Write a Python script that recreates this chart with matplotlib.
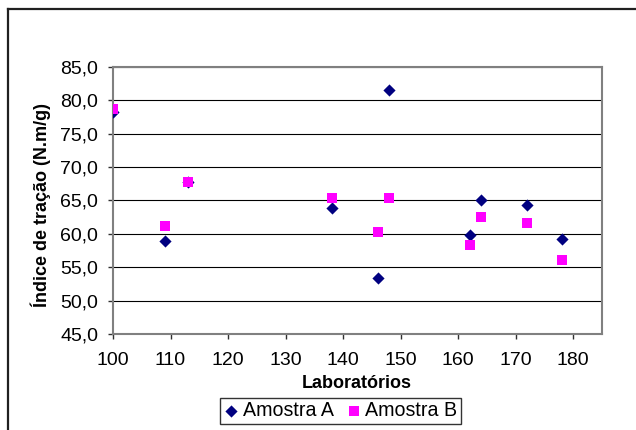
import matplotlib
matplotlib.use("Agg")
import matplotlib.pyplot as plt
from matplotlib.lines import Line2D
from matplotlib.ticker import FuncFormatter, MultipleLocator

plt.rcParams['font.family'] = ['Liberation Sans', 'DejaVu Sans']

labs = [100, 109, 113, 138, 146, 148, 162, 164, 172, 178]
amostra_a = [78.2, 59.0, 67.7, 63.9, 53.4, 81.5, 59.9, 65.0, 64.3, 59.2]
amostra_b = [78.7, 61.2, 67.8, 65.4, 60.3, 65.3, 58.3, 62.6, 61.7, 56.1]

W, H = 636, 430
fig = plt.figure(figsize=(W / 100, H / 100), dpi=100)

# outer chart-area border (top and left visible)
fig.add_artist(Line2D([8 / W, 8 / W], [0, 1 - 9 / H], transform=fig.transFigure,
                      color='#202020', lw=1.6))
fig.add_artist(Line2D([8 / W, 1], [1 - 9 / H, 1 - 9 / H], transform=fig.transFigure,
                      color='#202020', lw=1.6))

left, right, top, bottom = 113, 602, 67, 334
ax = fig.add_axes([left / W, 1 - bottom / H, (right - left) / W, (bottom - top) / H])

ax.scatter(labs, amostra_a, marker='D', s=6.2 ** 2, color='#000080', zorder=3,
           label='Amostra A', linewidths=0)
ax.scatter(labs, amostra_b, marker='s', s=7.4 ** 2, color='#FF00FF', zorder=3,
           label='Amostra B', linewidths=0)

ax.set_xlim(100, 185)
ax.set_ylim(45, 85)
ax.set_xticks(range(100, 181, 10))
ax.yaxis.set_major_locator(MultipleLocator(5))
ax.yaxis.set_major_formatter(FuncFormatter(lambda v, p: f"{v:.1f}".replace('.', ',')))

ax.grid(axis='y', color='black', lw=0.8)
ax.set_axisbelow(True)
for s in ax.spines.values():
    s.set_color('#808080')
    s.set_linewidth(1.5)

ax.tick_params(direction='out', length=3.6, width=1, color='#303030', labelsize=14)
ax.tick_params(axis='x', pad=9.5)
ax.tick_params(axis='y', pad=7)

fig.text(357 / W, 1 - 383 / H, 'Laboratórios', fontsize=13, fontweight='bold',
         ha='center', va='center')
fig.text(41 / W, 1 - 205 / H, 'Índice de tração (N.m/g)', fontsize=13,
         fontweight='bold', ha='center', va='center', rotation=90)

leg = fig.legend(loc='center', bbox_to_anchor=(340.5 / W, 1 - 411 / H), ncol=2,
                 fontsize=14.1, frameon=True, fancybox=False, handletextpad=0.2,
                 columnspacing=0.6, handlelength=0.8, borderpad=0.2,
                 borderaxespad=0)
leg.get_frame().set_edgecolor('black')
leg.get_frame().set_linewidth(1.0)

fig.savefig('out.png', dpi=100)
